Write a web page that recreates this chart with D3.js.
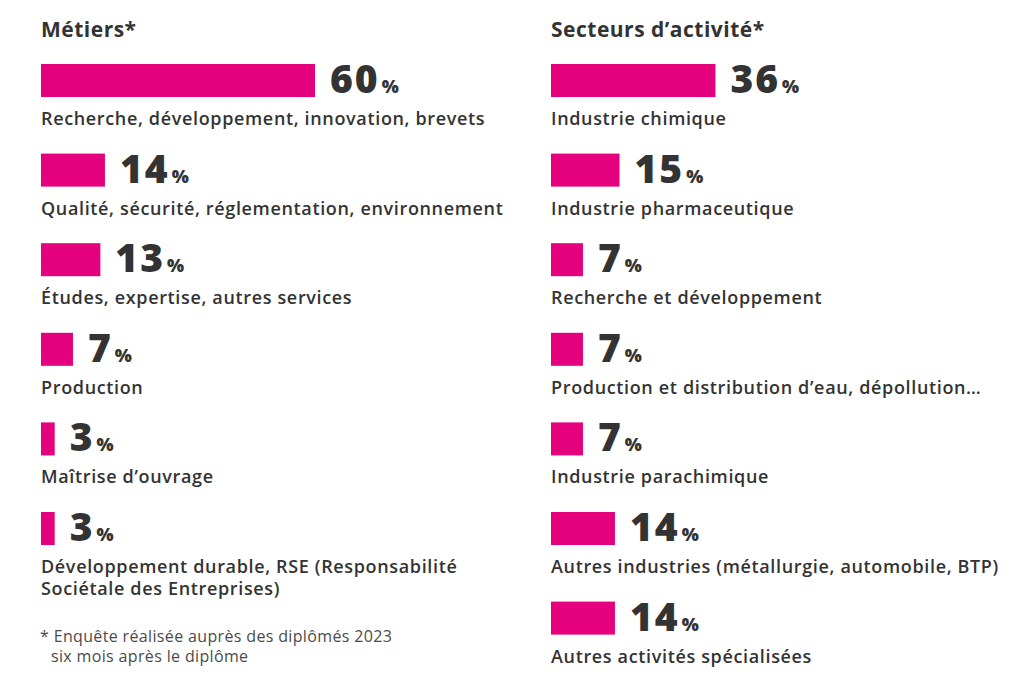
<!DOCTYPE html>
<html>
<head>
<meta charset="utf-8">
<script src="https://cdn.jsdelivr.net/npm/d3@7"></script>
<style>
  body { margin: 0; background: #fff; }
  svg { font-family: "Open Sans", sans-serif; }
</style>
</head>
<body>
<svg id="chart" width="1024" height="682"></svg>
<script>
// Métiers
const metiersLabels = [
  ['Recherche, développement, innovation, brevets'],
  ['Qualité, sécurité, réglementation, environnement'],
  ['Études, expertise, autres services'],
  ['Production'],
  ['Maîtrise d’ouvrage'],
  ['Développement durable, RSE (Responsabilité', 'Sociétale des Entreprises)']
]
const metiersValues = [60, 14, 13, 7, 3, 3]

// Secteurs d'activité
const secteursLabels = [
  ['Industrie chimique'],
  ['Industrie pharmaceutique'],
  ['Recherche et développement'],
  ['Production et distribution d’eau, dépollution…'],
  ['Industrie parachimique'],
  ['Autres industries (métallurgie, automobile, BTP)'],
  ['Autres activités spécialisées']
]
const secteursValues = [36, 15, 7, 7, 7, 14, 14]

const footnote = ['* Enquête réalisée auprès des diplômés 2023', 'six mois après le diplôme']

const pink = '#e5007d'
const ink = '#333333'

const svg = d3.select('#chart')

// shared horizontal scale : percent -> bar width
const x = d3.scaleLinear().domain([0, 60]).range([0, 274])
const rowStep = 89.6
const firstRow = 64

function panel (left, title, labels, values) {
  const g = svg.append('g').attr('transform', `translate(${left},0)`)

  g.append('text')
    .attr('x', 0).attr('y', 37)
    .attr('fill', ink)
    .style('font-size', '21px').style('font-weight', 700)
    .style('letter-spacing', '0.5px')
    .text(title)

  const y = d3.scaleBand()
    .domain(d3.range(values.length))
    .range([firstRow, firstRow + rowStep * values.length])

  const rows = g.selectAll('g.row')
    .data(values.map((v, i) => ({ v, lines: labels[i], i })))
    .join('g')
    .attr('class', 'row')
    .attr('transform', d => `translate(0,${y(d.i)})`)

  rows.append('rect')
    .attr('x', 0).attr('y', 0)
    .attr('width', d => x(d.v))
    .attr('height', 33)
    .attr('fill', pink)

  const num = rows.append('text')
    .attr('x', d => x(d.v) + 15)
    .attr('y', 29)
    .attr('fill', ink)
    .style('font-weight', 800)

  num.append('tspan')
    .style('font-size', '39px')
    .style('letter-spacing', '2px')
    .text(d => d.v)
  num.append('tspan')
    .attr('dx', 2)
    .style('font-size', '18px')
    .text('%')

  rows.append('text')
    .attr('x', 0)
    .attr('y', 61)
    .attr('fill', ink)
    .style('font-size', '18px').style('font-weight', 600)
    .style('letter-spacing', '0.65px')
    .selectAll('tspan')
    .data(d => d.lines)
    .join('tspan')
    .attr('x', 0)
    .attr('dy', (d, i) => i === 0 ? 0 : 22)
    .text(d => d)

  return g
}

panel(41, 'Métiers*', metiersLabels, metiersValues)
panel(551, 'Secteurs d’activité*', secteursLabels, secteursValues)

svg.append('text')
  .attr('y', 642)
  .attr('fill', '#4a4a4a')
  .style('font-size', '16px')
  .style('letter-spacing', '0.35px')
  .selectAll('tspan')
  .data(footnote)
  .join('tspan')
  .attr('x', (d, i) => i === 0 ? 40 : 51)
  .attr('dy', (d, i) => i === 0 ? 0 : 20)
  .text(d => d)
</script>
</body>
</html>
